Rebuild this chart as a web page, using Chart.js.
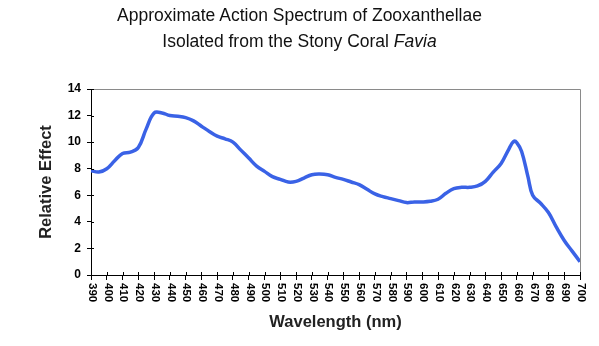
<!DOCTYPE html>
<html>
<head>
<meta charset="utf-8">
<script src="https://cdn.jsdelivr.net/npm/chart.js@4"></script>
<style>
  html, body { margin: 0; padding: 0; background: #fff; }
  #wrap { position: relative; width: 599px; height: 346px; }
  #title {
    position: absolute; top: 2px; left: 0; width: 599px; text-align: center;
    font-family: "Liberation Sans", Arial, sans-serif; font-size: 17.5px;
    line-height: 26px; color: #111;
  }
  canvas { position: absolute; left: 0; top: 0; }
</style>
</head>
<body>
<div id="wrap">
  <canvas id="chart" width="599" height="346"></canvas>
  <div id="title">Approximate Action Spectrum of Zooxanthellae<br>Isolated from the Stony Coral <i>Favia</i></div>
</div>
<script>
const wavelengths = [390, 395, 400, 405, 410, 415, 420, 425, 430, 435, 440, 445, 450, 455, 460, 465,
  470, 475, 480, 485, 490, 495, 500, 505, 510, 515, 520, 525, 530, 535, 540, 545, 550, 555, 560,
  565, 570, 575, 580, 585, 590, 595, 600, 605, 610, 615, 620, 625, 630, 635, 640, 645, 650, 655,
  658, 660, 663, 667, 670, 675, 680, 685, 690, 695, 700];
const effect = [7.85, 7.75, 8.0, 8.6, 9.15, 9.25, 9.6, 11.0, 12.2, 12.2, 12.0, 11.95, 11.85, 11.6, 11.2, 10.8,
  10.45, 10.25, 10.0, 9.4, 8.8, 8.2, 7.8, 7.4, 7.2, 7.0, 7.05, 7.3, 7.55, 7.6, 7.55, 7.35, 7.2, 7.0, 6.8,
  6.45, 6.1, 5.9, 5.75, 5.6, 5.45, 5.5, 5.5, 5.55, 5.7, 6.15, 6.5, 6.6, 6.6, 6.7, 7.05, 7.75, 8.4, 9.5,
  10.05, 9.95, 9.3, 7.4, 6.0, 5.4, 4.7, 3.6, 2.6, 1.8, 1.0];

const xLabel = "Wavelength (nm)";
const yLabel = "Relative Effect";
const FONT = '"Liberation Sans", Arial, sans-serif';

const points = wavelengths.map((w, i) => ({ x: w, y: effect[i] }));

// draws the gray frame, inner tick halves and top-to-bottom x labels
const extras = {
  id: "extras",
  afterDraw(chart) {
    const ctx = chart.ctx;
    const a = chart.chartArea;
    const xs = chart.scales.x;
    const ys = chart.scales.y;
    ctx.save();
    ctx.strokeStyle = "#8a8a8a";
    ctx.lineWidth = 1;
    ctx.beginPath();
    ctx.moveTo(a.left, a.top + 0.5);
    ctx.lineTo(a.right + 0.5, a.top + 0.5);
    ctx.lineTo(a.right + 0.5, a.bottom);
    ctx.stroke();

    ctx.strokeStyle = "#000";
    ctx.beginPath();
    xs.ticks.forEach(t => {
      const px = Math.round(xs.getPixelForValue(t.value)) + 0.5;
      ctx.moveTo(px, a.bottom - 3);
      ctx.lineTo(px, a.bottom);
    });
    ys.ticks.forEach(t => {
      const py = Math.round(ys.getPixelForValue(t.value)) + 0.5;
      ctx.moveTo(a.left, py);
      ctx.lineTo(a.left + 3, py);
    });
    ctx.stroke();

    ctx.fillStyle = "#000";
    ctx.font = "bold 11.5px " + FONT;
    ctx.textAlign = "left";
    ctx.textBaseline = "middle";
    xs.ticks.forEach(t => {
      const px = xs.getPixelForValue(t.value);
      ctx.save();
      ctx.translate(px + 1, a.bottom + 8);
      ctx.rotate(Math.PI / 2);
      ctx.fillText(String(t.value), 0, 0);
      ctx.restore();
    });
    ctx.restore();
  }
};

new Chart(document.getElementById("chart").getContext("2d"), {
  type: "line",
  data: {
    datasets: [
      {
        data: points,
        borderColor: "#3a62e6",
        borderWidth: 3.5,
        pointRadius: 0,
        tension: 0.4,
        fill: false
      }
    ]
  },
  options: {
    responsive: false,
    animation: false,
    layout: { padding: { top: 89, left: 33, right: 19, bottom: 10 } },
    plugins: { legend: { display: false }, tooltip: { enabled: false } },
    scales: {
      x: {
        type: "linear",
        min: 390,
        max: 700,
        ticks: { stepSize: 10, display: false },
        grid: { drawOnChartArea: false, tickLength: 5, color: "#000" },
        border: { color: "#000", width: 1 },
        title: { display: true, text: xLabel, color: "#222", font: { family: FONT, size: 16.5, weight: "bold" } },
        afterFit: s => { s.height = 61; }
      },
      y: {
        min: 0,
        max: 14,
        ticks: { stepSize: 2, color: "#000", padding: 6, font: { family: FONT, size: 12, weight: "bold" } },
        grid: { drawOnChartArea: false, tickLength: 4, color: "#000" },
        border: { color: "#000", width: 1 },
        title: { display: true, text: yLabel, color: "#222", font: { family: FONT, size: 16.5, weight: "bold" } },
        afterFit: s => { s.width = 58; }
      }
    }
  },
  plugins: [extras]
});
</script>
</body>
</html>
